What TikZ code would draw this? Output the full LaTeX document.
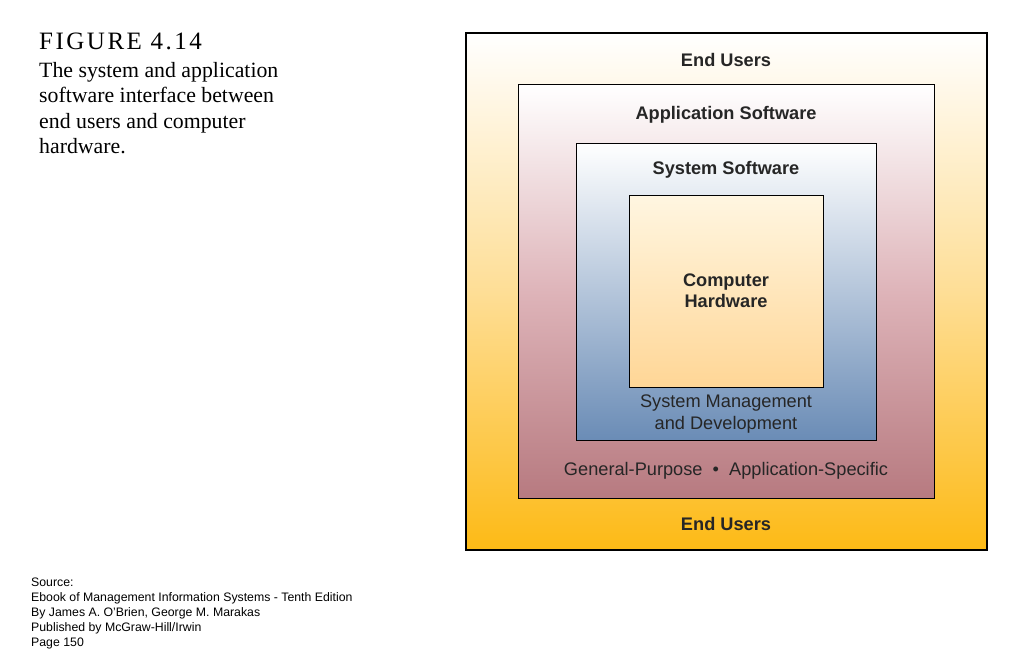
\documentclass[tikz,border=0pt]{standalone}
\usepackage{fontspec}
\setmainfont{Liberation Serif}
\setsansfont{Liberation Sans}
\definecolor{oorange}{RGB}{253,186,22}
\definecolor{mauve}{RGB}{183,122,128}
\definecolor{steel}{RGB}{106,140,182}
\definecolor{hwor}{RGB}{255,214,150}
\definecolor{hwtop}{RGB}{255,246,225}
\begin{document}
\begin{tikzpicture}[x=1pt,y=-1pt,
  box/.style={draw=black,line width=1pt},
  lbl/.style={font=\sffamily\bfseries\fontsize{18.2}{21}\selectfont,text=black!85,align=center},
  sub/.style={font=\sffamily\fontsize{18.2}{22}\selectfont,text=black!85,align=center}]
\useasboundingbox (0,0) rectangle (1035,666);
\fill[white] (0,0) rectangle (1035,666);
\shade[top color=white,bottom color=oorange,middle color={rgb,255:red,254;green,222;blue,150}] (466,33) rectangle (987,550);
\draw[box,line width=1.4pt] (466,33) rectangle (987,550);
\shade[top color=white,bottom color=mauve,middle color={rgb,255:red,222;green,180;blue,185}] (518,85) rectangle (934,498);
\draw[box] (518,85) rectangle (934,498);
\shade[top color=white,bottom color=steel] (576,143) rectangle (876,440);
\draw[box] (576,143) rectangle (876,440);
\shade[top color=hwtop,bottom color=hwor] (629,195) rectangle (823,387);
\draw[box] (629,195) rectangle (823,387);
\node[lbl] (eu1) at (726,60) {End Users};
\node[lbl] (as) at (726,115) {Application Software};
\node[lbl] (ss) at (726,170) {System Software};
\node[lbl] (hw) at (726,291) {Computer\\Hardware};
\node[sub] (smd) at (726,414) {System Management\\and Development};
\node[sub] (gp) at (726,471) {General-Purpose \ \textbullet\ \ Application-Specific};
\node[lbl] (eu2) at (726,524) {End Users};
\node[anchor=north west,inner sep=0pt,font=\fontsize{25}{28}\selectfont] (fig) at (39,33) {\addfontfeature{LetterSpace=10}FIGURE 4.14};
\node[anchor=north west,inner sep=0pt,align=left,font=\fontsize{21.8}{25.5}\selectfont] (cap) at (39,62) {The system and application\\software interface between\\end users and computer\\hardware.};
\node[anchor=north west,inner sep=0pt,align=left,font=\sffamily\fontsize{12.3}{15}\selectfont] (src) at (31,578) {Source:\\Ebook of Management Information Systems - Tenth Edition\\By James A. O'Brien, George M. Marakas\\Published by McGraw-Hill/Irwin\\Page 150};
\end{tikzpicture}
\end{document}
